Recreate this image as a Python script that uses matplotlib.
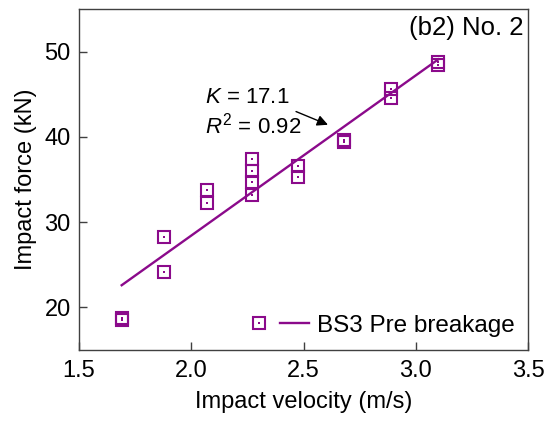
import matplotlib
matplotlib.use("Agg")
import matplotlib.pyplot as plt
from matplotlib.legend_handler import HandlerTuple

# measured points (impact velocity m/s, impact force kN)
velocity = [1.69, 1.69, 1.88, 1.88, 2.07, 2.07, 2.27, 2.27, 2.27, 2.27,
            2.475, 2.475, 2.68, 2.68, 2.89, 2.89, 3.10, 3.10]
force = [18.5, 18.8, 28.3, 24.1, 33.8, 32.3, 37.4, 36.0, 34.7, 33.2,
         36.6, 35.3, 39.4, 39.6, 45.6, 44.6, 48.4, 48.8]

# fitted line ends
fit_x = [1.69, 3.10]
fit_y = [22.6, 49.1]

colour = "#8B0A8B"

plt.rcParams["font.family"] = ["Liberation Sans", "DejaVu Sans"]
plt.rcParams["mathtext.fontset"] = "custom"
plt.rcParams["mathtext.it"] = "Liberation Sans:italic"
plt.rcParams["mathtext.rm"] = "Liberation Sans"

fig = plt.figure(figsize=(5.45, 4.23), dpi=100)
ax = fig.add_axes([0.145, 0.1726, 0.824, 0.806])

line, = ax.plot(fit_x, fit_y, color=colour, lw=1.7, zorder=2)
pts, = ax.plot(velocity, force, ls="none", marker="s", ms=8,
               mfc="none", mec=colour, mew=1.5, zorder=3)
dots, = ax.plot(velocity, force, ls="none", marker="s", ms=1.6,
                mfc=colour, mec=colour, mew=0, zorder=3)

ax.set_xlim(1.5, 3.5)
ax.set_ylim(15, 55)
ax.set_xticks([1.5, 2.0, 2.5, 3.0, 3.5])
ax.set_yticks([20, 30, 40, 50])
ax.tick_params(direction="in", length=6, width=1, labelsize=17, color="#404040")
ax.tick_params(axis="x", pad=7)
ax.tick_params(axis="y", pad=6)
for s in ax.spines.values():
    s.set_color("#404040")
    s.set_linewidth(1)

ax.set_xlabel("Impact velocity (m/s)", fontsize=17, labelpad=7)
ax.set_ylabel("Impact force (kN)", fontsize=17, labelpad=5)

ax.text(0.99, 0.98, "(b2) No. 2", transform=ax.transAxes, ha="right", va="top", fontsize=18.5)
ax.text(2.06, 42.8, "$K$ = 17.1\n$R^2$ = 0.92", fontsize=16, va="center", linespacing=1.2)
ax.annotate("", xy=(2.62, 41.3), xytext=(2.455, 43.1),
            arrowprops=dict(arrowstyle="-|>", color="black", lw=1, mutation_scale=16))

marker_key = (pts, dots)
full_key = (marker_key, line)
ax.legend([full_key], ["BS3 Pre breakage"],
          handler_map={marker_key: HandlerTuple(ndivide=1),
                       full_key: HandlerTuple(ndivide=None, pad=0.27)},
          loc="lower right", frameon=False, fontsize=17.5, handlelength=2.67, handletextpad=0.33,
          borderaxespad=0.15)

fig.savefig("out.png", dpi=100)
